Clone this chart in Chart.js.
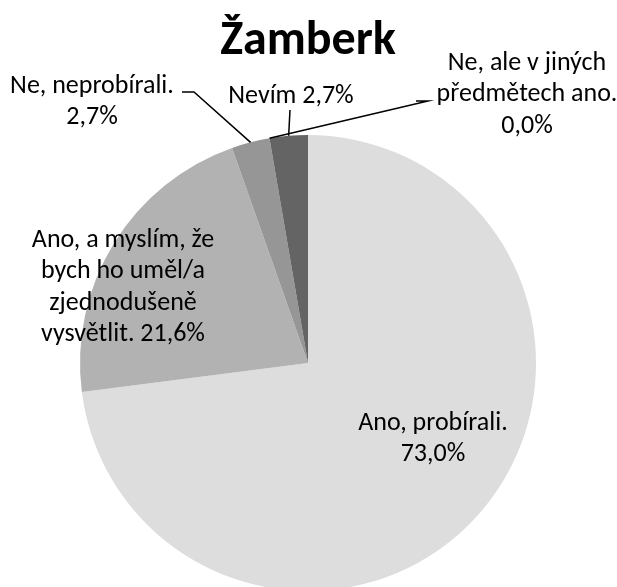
<!DOCTYPE html>
<html>
<head>
<meta charset="utf-8">
<script src="https://cdn.jsdelivr.net/npm/chart.js@4"></script>
<style>
  html, body { margin: 0; padding: 0; background: #fff; overflow: hidden; }
  #wrap { position: relative; width: 617px; height: 592px; }
</style>
</head>
<body>
<div id="wrap"><canvas id="pie"></canvas></div>
<script>
// -----------------------------
// Data
// -----------------------------
const title = 'Žamberk';
const categories = [
  'Ano, probírali.',
  'Ano, a myslím, že bych ho uměl/a zjednodušeně vysvětlit.',
  'Ne, neprobírali.',
  'Ne, ale v jiných předmětech ano.',
  'Nevím'
];
const values = [27, 8, 1, 0, 1];
const percentLabels = ['73,0%', '21,6%', '2,7%', '0,0%', '2,7%'];
const colors = ['#dddddd', '#b2b2b2', '#969696', '#7a7a7a', '#646464'];

const FONT = 'Carlito, "Open Sans", sans-serif';

// label text lines per slice (wrapped like the original)
const labelLines = [
  ['Ano, probírali.', percentLabels[0]],
  ['Ano, a myslím, že', 'bych ho uměl/a', 'zjednodušeně', 'vysvětlit. ' + percentLabels[1]],
  ['Ne, neprobírali.', percentLabels[2]],
  ['Ne, ale v jiných', 'předmětech ano.', percentLabels[3]],
  ['Nevím ' + percentLabels[4]]
];

// label placement: centre x / first line y, optional leader elbow
const labelPos = [
  { x: 433, y: 423 },
  { x: 123, y: 240 },
  { x: 92, y: 86, elbow: { x: 194, y: 92 }, end: { x: 182, y: 92 } },
  { x: 527, y: 63, elbow: { x: 428, y: 101 }, end: { x: 416, y: 101 } },
  { x: 291, y: 96, elbow: { x: 290, y: 110 } }
];

// -----------------------------
// Title + labels plugin
// -----------------------------
const labelPlugin = {
  id: 'pieLabels',
  afterDraw(chart) {
    const c = chart.ctx;
    c.save();
    c.fillStyle = '#000';
    c.textAlign = 'center';

    c.textBaseline = 'alphabetic';
    c.font = 'bold 48px ' + FONT;
    c.fillText(title, 308, 54);

    c.textBaseline = 'middle';
    const arcs = chart.getDatasetMeta(0).data;
    c.font = '26px ' + FONT;
    arcs.forEach((arc, i) => {
      const p = labelPos[i];
      const { x, y, startAngle, endAngle, outerRadius } = arc.getProps(['x', 'y', 'startAngle', 'endAngle', 'outerRadius'], true);
      if (p.elbow) {
        const mid = (startAngle + endAngle) / 2;
        c.strokeStyle = '#000';
        c.lineWidth = 1.5;
        c.beginPath();
        c.moveTo(x + Math.cos(mid) * outerRadius, y + Math.sin(mid) * outerRadius);
        c.lineTo(p.elbow.x, p.elbow.y);
        if (p.end) c.lineTo(p.end.x, p.end.y);
        c.stroke();
      }
      labelLines[i].forEach((line, k) => {
        c.fillText(line, p.x, p.y + k * 31.5);
      });
    });
    c.restore();
  }
};

// -----------------------------
// Chart
// -----------------------------
new Chart(document.getElementById('pie'), {
  type: 'pie',
  data: {
    labels: categories,
    datasets: [{
      data: values,
      backgroundColor: colors,
      borderWidth: 0
    }]
  },
  options: {
    responsive: true,
    maintainAspectRatio: false,
    animation: false,
    layout: { padding: { left: 80, right: 81, top: 135, bottom: 1 } },
    plugins: {
      legend: { display: false },
      tooltip: { enabled: false },
      title: { display: false }
    }
  },
  plugins: [labelPlugin]
});
</script>
</body>
</html>
